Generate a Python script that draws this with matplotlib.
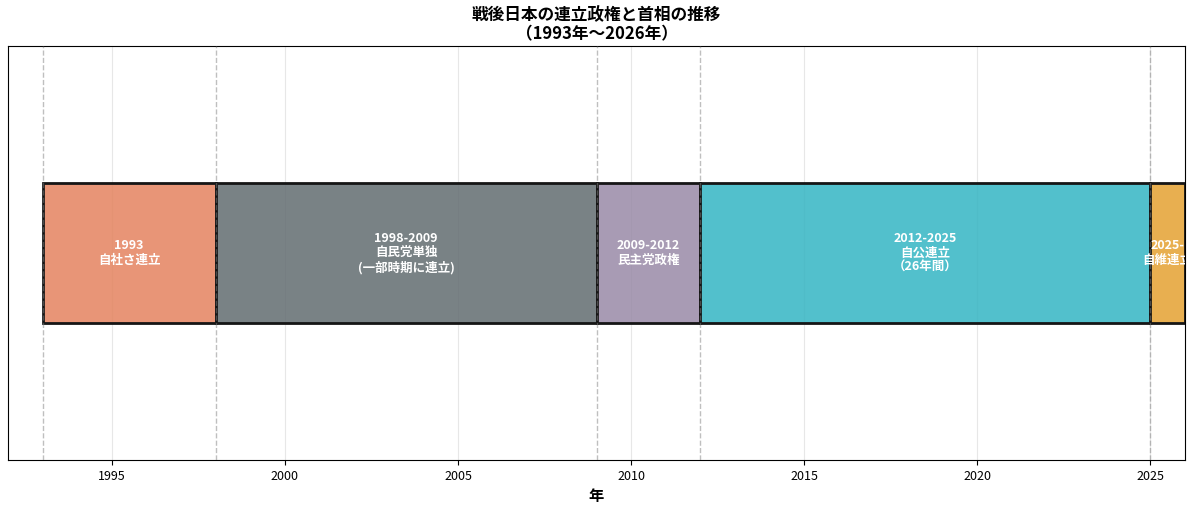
import matplotlib
matplotlib.use("Agg")
import matplotlib.pyplot as plt
from matplotlib.colors import to_rgba

plt.rcParams['font.family'] = ['Noto Sans CJK JP', 'DejaVu Sans']

# coalition periods
starts = [1993, 1998, 2009, 2012, 2025]
ends = [1998, 2009, 2012, 2025, 2026]
labels = [
    "1993\n自社さ連立",
    "1998-2009\n自民党単独\n(一部時期に連立)",
    "2009-2012\n民主党政権",
    "2012-2025\n自公連立\n（26年間）",
    "2025-\n自維連立",
]
colors = ['#E4835F', '#626C70', '#998AA7', '#34B5C3', '#E4A131']
boundaries = [1993, 1998, 2009, 2012, 2025]

fig, ax = plt.subplots(figsize=(12, 5.08), dpi=100)
fig.subplots_adjust(left=0.0067, right=0.9875, top=0.9094, bottom=0.0945)

for s, e, lab, c in zip(starts, ends, labels, colors):
    ax.barh(0, e - s, left=s, height=0.68, color=to_rgba(c, 0.85),
            edgecolor='#151515', linewidth=2, zorder=2)
    ax.text((s + e) / 2, 0, lab, ha='center', va='center', color='white',
            fontsize=9, fontweight='bold', clip_on=True, zorder=4, linespacing=1.15)

for b in boundaries:
    ax.axvline(b, color='gray', linestyle='--', linewidth=1, alpha=0.5, zorder=3)

ax.set_xlim(1992, 2026)
ax.set_ylim(-1, 1)
ax.set_yticks([])
ax.set_xticks([1995, 2000, 2005, 2010, 2015, 2020, 2025])
ax.tick_params(axis='x', labelsize=9)
ax.grid(axis='x', alpha=0.3, zorder=0)
ax.set_axisbelow(True)
ax.set_xlabel('年', fontsize=11, fontweight='bold')
ax.set_title('戦後日本の連立政権と首相の推移\n（1993年〜2026年）', fontsize=12,
             fontweight='bold', linespacing=1.1, pad=4.5)

fig.savefig('out.png', dpi=100)
